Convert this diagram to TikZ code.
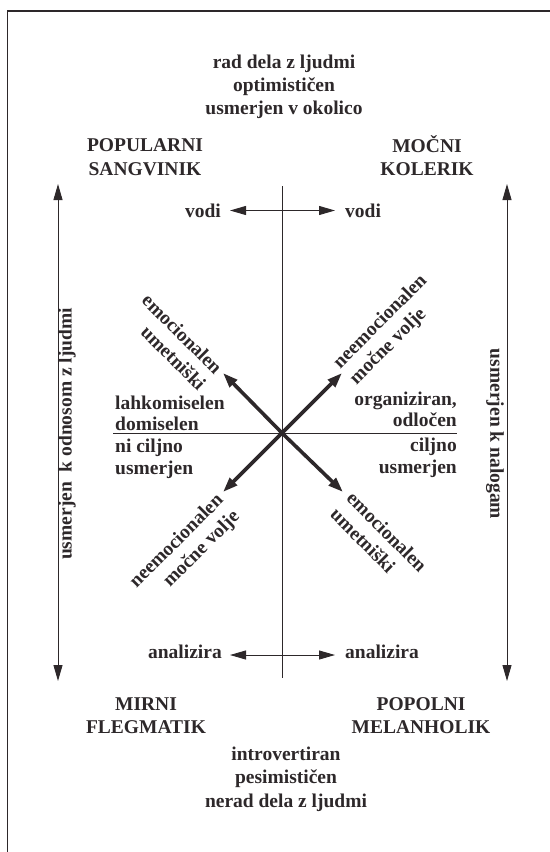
\documentclass[tikz,border=0pt]{standalone}
\usepackage{fontspec}
\setmainfont{Liberation Serif}
\usetikzlibrary{arrows.meta}

\begin{document}
\begin{tikzpicture}[x=1bp, y=-1bp,
    lbl/.style={font=\fontsize{19.5bp}{23.3bp}\selectfont\bfseries, text=ink, inner sep=0pt},
    side/.style={lbl, font=\fontsize{19.5bp}{21.5bp}\selectfont\bfseries},
    diaglbl/.style={lbl, font=\fontsize{19.5bp}{23bp}\selectfont\bfseries},
    axisline/.style={draw=ink, line width=0.8bp},
    thinarrow/.style={draw=ink, line width=0.9bp, {Triangle[length=16bp,width=9bp]}-{Triangle[length=16bp,width=9bp]}},
    diagarrow/.style={draw=ink, line width=3.6bp, -{Triangle[length=15bp,width=10bp]}}]
        % Define ink colour (scanned print)
        \definecolor{ink}{RGB}{45,40,42}

        \useasboundingbox (0,0) rectangle (550,852);

        % --- Frame (cut at right and bottom) ---
        \draw[ink, line width=1.8bp] (560,11) -- (7.5,11) -- (7.5,870);

        % --- Cross of the two axes ---
        \coordinate (c) at (282,433);
        \coordinate (vtop) at (282,186); \coordinate (vbot) at (282,678);
        \coordinate (hleft) at (113,433); \coordinate (hright) at (457,433);
        \draw[axisline] (vtop) -- (vbot);
        \draw[axisline] (hleft) -- (hright);

        % --- Side arrows ---
        \coordinate (lt) at (58,184); \coordinate (lb) at (58,681);
        \coordinate (rt) at (507,184); \coordinate (rb) at (507,681);
        \draw[thinarrow] (lt) -- (lb);
        \draw[thinarrow] (rt) -- (rb);
        \node[lbl, rotate=90] (people) at (67,434) {usmerjen\ \ k odnosom z ljudmi};
        \node[lbl, rotate=-90] (tasks) at (495,434) {usmerjen k nalogam};

        % --- Top and bottom texts ---
        \node[lbl, align=center] (extro) at (284,87) {rad dela z ljudmi\\optimističen\\usmerjen v okolico};
        \node[lbl, align=center] (intro) at (286,779) {introvertiran\\pesimističen\\nerad dela z ljudmi};

        % --- The four temperaments ---
        \node[lbl, align=center, anchor=south] (sang) at (145,175.7) {POPULARNI\\SANGVINIK};
        \node[lbl, align=center, anchor=south] (kol) at (427,175.7) {MOČNI\\KOLERIK};
        \node[lbl, align=center, anchor=south] (fleg) at (146,734) {MIRNI\\FLEGMATIK};
        \node[lbl, align=center, anchor=south] (mel) at (421,734) {POPOLNI\\MELANHOLIK};

        % --- vodi / analizira ---
        \node[lbl, anchor=east] (vodil) at (221,210.5) {vodi};
        \node[lbl, anchor=west] (vodir) at (345,210.5) {vodi};
        \draw[thinarrow, shorten <=9bp, shorten >=10bp] (vodil) -- (vodir);
        \node[lbl, anchor=east] (anl) at (222,652) {analizira};
        \node[lbl, anchor=west] (anr) at (345,652) {analizira};
        \draw[thinarrow, shorten <=8bp, shorten >=10bp] ([yshift=-3bp]anl.east) -- ([yshift=-3bp]anr.west);

        % --- Texts beside the horizontal axis ---
        \node[side, align=left, anchor=south west] (easy) at (115,431) {lahkomiselen\\domiselen};
        \node[side, align=left, anchor=north west] (aimless) at (115,439) {ni ciljno\\usmerjen};
        \node[side, align=right, anchor=south east] (organized) at (457,427) {organiziran,\\odločen};
        \node[side, align=right, anchor=north east] (goal) at (457,438) {ciljno\\usmerjen};

        % --- Diagonal arrows ---
        \coordinate (ul) at (223,373); \coordinate (ur) at (342,373);
        \coordinate (ll) at (223,492); \coordinate (lr) at (343,492);
        \draw[diagarrow] (c) -- (ul);
        \draw[diagarrow] (c) -- (ur);
        \draw[diagarrow] (c) -- (ll);
        \draw[diagarrow] (c) -- (lr);
        \node[diaglbl, rotate=-45, anchor=east, align=right] (emoup) at (211,379) {emocionalen\\umetniški};
        \node[diaglbl, rotate=45, anchor=west, align=left] (neemoup) at (345,374) {neemocionalen\\močne volje};
        \node[diaglbl, rotate=45, anchor=east, align=right] (neemodown) at (229,506) {neemocionalen\\močne volje};
        \node[diaglbl, rotate=-45, anchor=west, align=left] (emodown) at (342,503) {emocionalen\\umetniški};
    \end{tikzpicture}
\end{document}
